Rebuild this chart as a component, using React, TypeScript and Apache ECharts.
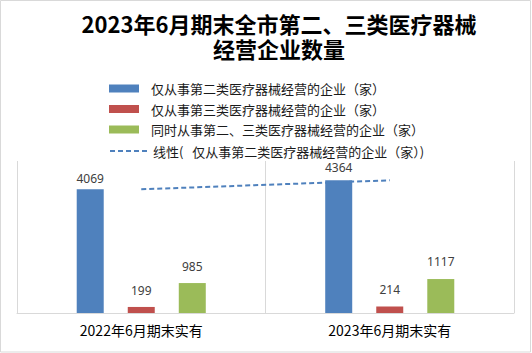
import React, { useEffect, useRef } from "react";
import * as echarts from "echarts";

const categories = ["2022年6月期末实有", "2023年6月期末实有"];
const seriesNames = [
  "仅从事第二类医疗器械经营的企业（家）",
  "仅从事第三类医疗器械经营的企业（家）",
  "同时从事第二、三类医疗器械经营的企业（家）",
];
const trendName = "线性(   仅从事第二类医疗器械经营的企业（家）)";
const onlyClass2 = [4069, 4364];
const onlyClass3 = [199, 214];
const both = [985, 1117];
const titleLines = ["2023年6月期末全市第二、三类医疗器械", "经营企业数量"];

const colors = ["#4f81bd", "#c0504d", "#9bbb59"];
const labelDist = [
  [5, 7],
  [10, 10.5],
  [10.5, 12],
];
const titleY = [23, 47.5];

export default function App() {
  const ref = useRef<HTMLDivElement>(null);
  useEffect(() => {
    document.body.style.margin = "0";
    if (!ref.current) return;
    const chart = echarts.init(ref.current, undefined, { renderer: "svg" });
    const values = [onlyClass2, onlyClass3, both];
    const barSeries = values.map((arr, i) => ({
      type: "bar",
      name: seriesNames[i],
      barWidth: 27,
      barGap: "89%",
      itemStyle: { color: colors[i] },
      data: arr.map((v, j) => ({
        value: v,
        label: { distance: labelDist[i][j] },
      })),
      label: {
        show: true,
        position: "top",
        fontSize: 12,
        color: "#404040",
        fontFamily: "Noto Sans, sans-serif",
      },
      z: 2,
    }));
    const font = "'Noto Sans CJK SC', 'Noto Sans', sans-serif";
    chart.setOption({
      animation: false,
      backgroundColor: "#ffffff",
      graphic: [
        {
          type: "rect",
          shape: { x: 0.5, y: 0.5, width: 530, height: 351.5 },
          style: { fill: "none", stroke: "#d9d9d9", lineWidth: 1 },
          silent: true,
        },
        ...titleLines.map((t, i) => ({
          type: "text",
          x: 279,
          y: titleY[i],
          style: {
            text: t,
            textAlign: "center",
            textVerticalAlign: "middle",
            fontSize: 22,
            lineHeight: 23,
            fontWeight: "bold",
            fontFamily: "'Noto Sans CJK SC', sans-serif",
            fill: "#000000",
          },
        })),
      ],
      legend: [
        {
          orient: "vertical",
          left: 104,
          top: 76.5,
          itemWidth: 30,
          itemHeight: 8,
          itemGap: 6.5,
          data: seriesNames,
          icon: "rect",
          textStyle: {
            fontSize: 13,
            lineHeight: 14,
            color: "#1a1a1a",
            fontFamily: font,
            padding: [0, 0, 0, 7],
          },
        },
        {
          orient: "vertical",
          left: 104,
          top: 139,
          itemWidth: 38,
          itemHeight: 8,
          data: [trendName],
          itemStyle: { opacity: 0 },
          lineStyle: { opacity: 1 },
          textStyle: {
            fontSize: 13,
            lineHeight: 14,
            color: "#1a1a1a",
            fontFamily: font,
          },
        },
      ],
      grid: { left: 17, right: 18, top: 161, bottom: 40, containLabel: false },
      xAxis: {
        type: "category",
        data: categories,
        axisLine: { show: true, lineStyle: { color: "#d9d9d9", width: 1 } },
        axisTick: { show: false },
        splitLine: { show: true, lineStyle: { color: "#d9d9d9", width: 1 } },
        axisLabel: {
          fontSize: 14,
          color: "#000000",
          margin: 10,
          fontFamily: font,
        },
      },
      yAxis: {
        type: "value",
        min: 0,
        max: 5000,
        interval: 1000,
        axisLine: { show: false },
        axisTick: { show: false },
        axisLabel: { show: false },
        splitLine: { show: false },
      },
      series: [
        ...barSeries,
        {
          type: "line",
          name: trendName,
          data: onlyClass2,
          symbol: "none",
          lineStyle: { color: "#4f81bd", width: 2, type: [5, 3] },
          itemStyle: { color: "#4f81bd" },
          z: 3,
        },
      ],
    });
    return () => chart.dispose();
  }, []);
  return <div ref={ref} style={{ width: 532, height: 353 }} />;
}
